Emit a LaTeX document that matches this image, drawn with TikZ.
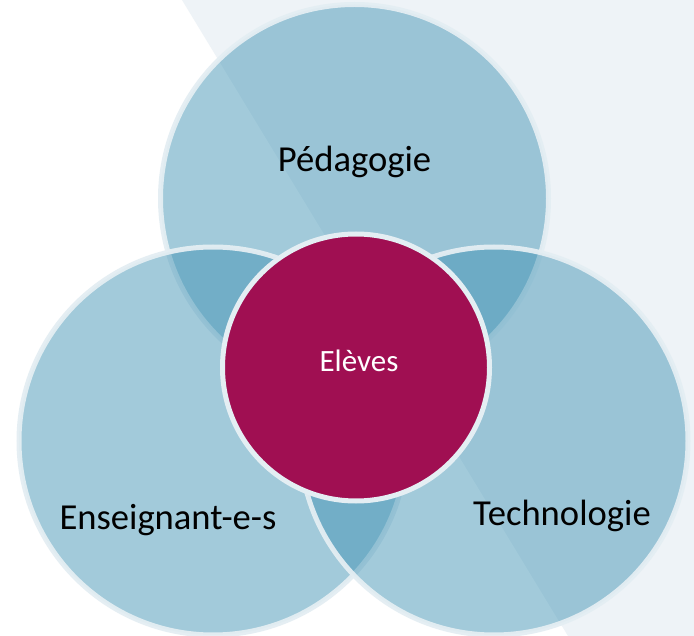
\documentclass[tikz,border=0pt]{standalone}
\usepackage{fontspec}
\setmainfont{Carlito}
\definecolor{bgc}{HTML}{EEF3F7}
\definecolor{ringc}{HTML}{3D91B3}
\definecolor{edgec}{HTML}{E4EEF3}
\definecolor{magc}{HTML}{A00F52}
\tikzset{
  venn/.style={circle, inner sep=0pt, minimum size=388pt, fill=ringc, fill opacity=0.475, draw=edgec, draw opacity=0.95, line width=5pt},
  core/.style={circle, inner sep=0pt, minimum size=267pt, fill=magc, draw=edgec, line width=5pt},
  lbl/.style={anchor=base, font=\fontsize{36.6}{40}\selectfont, text=black},
  corelbl/.style={anchor=base, font=\fontsize{31}{34}\selectfont, text=white}
}
\begin{document}
\begin{tikzpicture}[x=1pt,y=-1pt]
\useasboundingbox (0,0) rectangle (694,636);
\fill[white] (0,0) rectangle (694,636);
\fill[bgc] (182,0) -- (694,0) -- (694,636) -- (568,636) -- cycle;
\node[venn] (ped) at (354.5,198.5) {};
\node[venn] (ens) at (213,441) {};
\node[venn] (tec) at (494,441) {};
\node[core] (elv) at (356,367.5) {};
\node[lbl] (tped) at (354.5,172) {Pédagogie};
\node[lbl] (tens) at (168,529) {Enseignant-e-s};
\node[lbl] (ttec) at (562,525) {Technologie};
\node[corelbl] (telv) at (359,372) {Elèves};
\end{tikzpicture}
\end{document}
